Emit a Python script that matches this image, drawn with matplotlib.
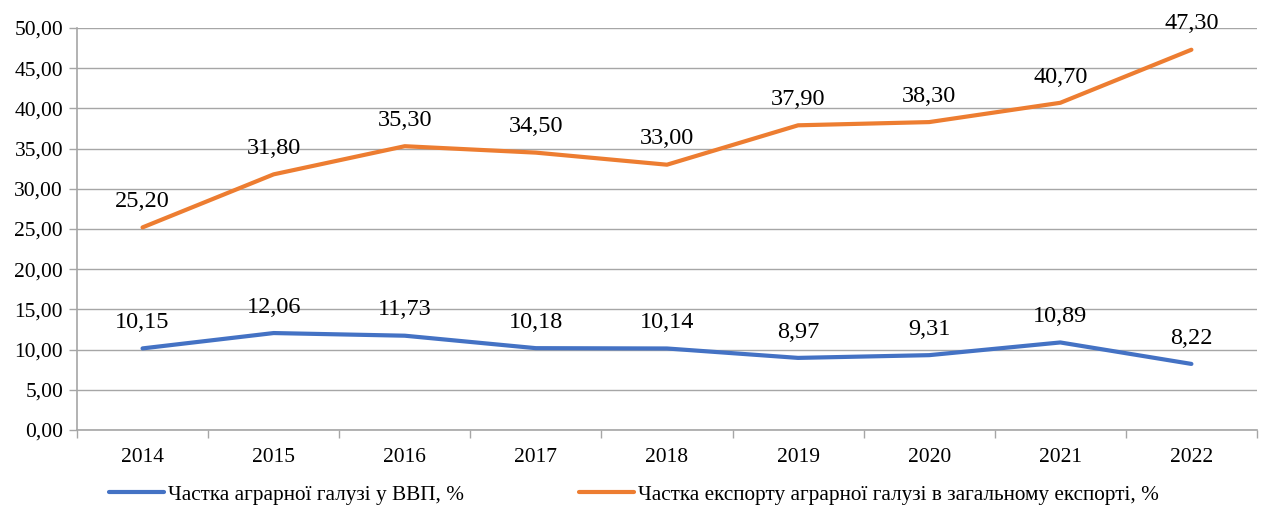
import matplotlib
matplotlib.use("Agg")
import matplotlib.pyplot as plt
from matplotlib.ticker import FuncFormatter, MultipleLocator

plt.rcParams['font.family'] = ['Liberation Serif', 'DejaVu Serif']

years = ['2014', '2015', '2016', '2017', '2018', '2019', '2020', '2021', '2022']
gdp_share = [10.15, 12.06, 11.73, 10.18, 10.14, 8.97, 9.31, 10.89, 8.22]
export_share = [25.20, 31.80, 35.30, 34.50, 33.00, 37.90, 38.30, 40.70, 47.30]
gdp_label = 'Частка аграрної галузі у ВВП, %'
export_label = 'Частка експорту аграрної галузі в загальному експорті, %'

def comma(v, pos=None):
    return f'{v:.2f}'.replace('.', ',')

fig = plt.figure(figsize=(12.62, 5.05), dpi=100)
ax = fig.add_axes([0.061, 0.1485, 0.935, 0.796])

x = list(range(len(years)))
ax.plot(x, gdp_share, color='#4472C4', lw=3, label=gdp_label, solid_capstyle='round')
ax.plot(x, export_share, color='#ED7D31', lw=3, label=export_label, solid_capstyle='round')

for xi, v in zip(x, gdp_share):
    ax.annotate(comma(v), (xi, v), xytext=(0, 11), textcoords='offset points',
                ha='center', va='bottom', fontsize=17.5)
for xi, v in zip(x, export_share):
    ax.annotate(comma(v), (xi, v), xytext=(0, 11), textcoords='offset points',
                ha='center', va='bottom', fontsize=17.5)

ax.set_xlim(-0.5, len(years) - 0.5)
ax.set_ylim(0, 50)
ax.yaxis.set_major_locator(MultipleLocator(5))
ax.yaxis.set_major_formatter(FuncFormatter(comma))
ax.set_xticks(x)
ax.set_xticklabels(years)
ax.set_xticks([i - 0.5 for i in range(len(years) + 1)], minor=True)
ax.tick_params(axis='x', which='major', length=0, pad=13, labelsize=15.5)
ax.tick_params(axis='x', which='minor', length=6, color='#A6A6A6', width=1)
ax.tick_params(axis='y', length=6, color='#A6A6A6', width=1, labelsize=15.5, pad=4)
ax.grid(axis='y', color='#A6A6A6', lw=1)
ax.set_axisbelow(True)
for s in ['top', 'right']:
    ax.spines[s].set_visible(False)
for s in ['left', 'bottom']:
    ax.spines[s].set_color('#A6A6A6')
    ax.spines[s].set_linewidth(1.2)

fig.legend(loc='lower left', bbox_to_anchor=(0.071, -0.037), ncol=2, frameon=False,
           fontsize=15.3, handlelength=2.6, handletextpad=0.2, columnspacing=5.4)

fig.savefig('out.png', dpi=100)
